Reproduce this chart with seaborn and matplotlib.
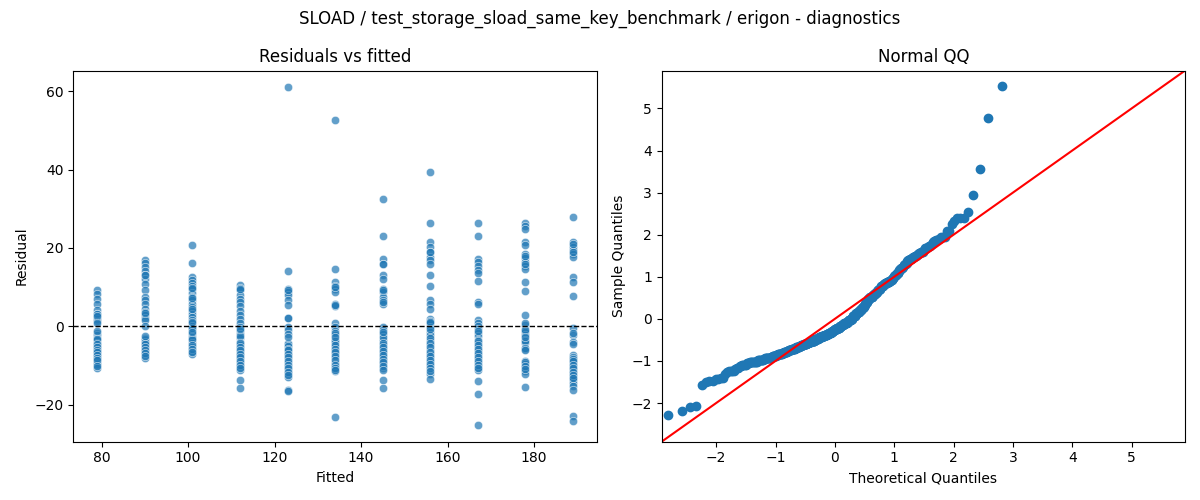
import statistics
import numpy as np
import pandas as pd
import matplotlib
matplotlib.use("Agg")
import matplotlib.pyplot as plt
import seaborn as sns

TITLE = "SLOAD / test_storage_sload_same_key_benchmark / erigon - diagnostics"

fitted_levels = [79, 90, 101, 112, 123, 134, 145, 156, 167, 178, 189]

res_79 = [9.3, 8.3, 7.0, 5.6, 4.1, 3.1, 2.4, 1.8, 1.4, -1.7, -2.3, -2.9, -3.6, -4.2, -5.0,
          -5.7, -6.3, -6.9, -7.6, -8.2, -9.1, -9.7, -10.6,
          3.0, 2.6, -3.2, -4.5, -5.3, -6.0, -6.6, -7.3, -8.0, -8.6, -10.2, -1.2, 0.8]
res_90 = [17.0, 16.2, 15.1, 14.0, 13.2, 12.1, 10.8, 9.3, 7.5, 6.8, 5.8, 4.5, 3.6, 2.8, 2.2,
          1.5, 0.0, -3.0, -3.6, -4.2, -4.8, -5.7, -6.5, -7.1, -8.1,
          13.0, 3.4, -3.3, -4.0, -4.6, -5.2, -6.1, -6.8, -7.5, -2.5]
res_101 = [20.8, 16.2, 12.7, 11.9, 11.0, 10.2, 9.6, 8.5, 7.5, 6.8, 5.6, 4.9, 3.9, 3.2, 2.4,
           1.7, 0.8, 0.0, -1.0, -1.9, -2.7, -3.6, -4.4, -5.3, -6.3, -7.1,
           9.8, 7.2, 4.5, -0.4, -3.2, -4.8, -5.8, -6.7, 1.2, -1.5]
res_112 = [10.6, 9.8, 9.2, 7.9, 7.0, 6.2, 5.1, 3.9, 2.8, 1.9, 0.7, -0.2, -1.2, -2.1, -3.1,
           -4.0, -4.8, -5.7, -6.5, -7.4, -8.5, -9.3, -10.2, -11.2, -13.7, -15.8,
           9.5, -2.6, -4.4, -5.2, -6.1, -7.0, -7.9, -8.9, -9.8, -10.7, -0.8]
res_123 = [61.0, 14.2, 9.6, 8.7, 7.9, 6.8, 5.3, 2.2, -0.2, -1.0, -1.9, -4.2, -5.3, -6.5,
           -7.4, -8.5, -9.3, -10.3, -11.2, -12.0, -12.9, -16.2, -16.5,
           9.2, 2.0, -4.5, -5.0, -5.8, -6.2, -7.0, -7.8, -8.9, -9.8, -10.8, -11.6, -12.5, -2.8]
res_134 = [52.7, 14.7, 11.3, 10.4, 9.6, 8.7, 5.8, 5.1, 0.7, -0.2, -1.3, -2.3, -3.4, -4.2,
           -5.3, -6.3, -7.1, -8.2, -9.3, -10.3, -11.4, -23.1,
           9.9, 5.5, -1.8, -3.8, -4.7, -5.8, -6.7, -7.6, -8.7, -9.8, -10.8, -11.2, -2.8]
res_145 = [32.5, 23.1, 17.2, 15.8, 13.2, 12.1, 9.6, 8.7, 7.5, 6.6, 5.8, -0.2, -1.0, -2.0,
           -3.6, -4.8, -5.9, -6.8, -7.8, -8.8, -9.7, -10.8, -13.7, -15.8,
           16.0, 9.2, 6.2, -2.8, -4.2, -5.3, -6.3, -7.3, -8.3, -9.2, -10.2, -11.2, -1.6]
res_156 = [39.4, 26.4, 21.4, 20.2, 18.9, 17.6, 16.8, 15.8, 13.2, 10.2, 6.6, 5.6, 4.5, 1.9,
           1.4, 0.7, -0.2, -1.4, -2.3, -3.7, -4.8, -6.1, -7.1, -8.2, -9.1, -10.2, -12.2, -13.6,
           19.0, 1.2, -3.0, -4.3, -5.4, -6.6, -7.6, -8.6, -9.6, -10.7, -11.5, -0.8]
res_167 = [26.5, 23.1, 17.2, 16.4, 15.5, 14.4, 13.6, 11.5, 6.2, 5.6, 1.5, 0.8, 0.0, -0.8,
           -1.7, -2.5, -3.4, -4.4, -5.3, -6.3, -7.4, -8.5, -9.5, -10.3, -11.2, -14.0, -17.4, -25.2,
           -3.9, -4.9, -5.8, -6.8, -7.9, -9.0, -10.0, -10.8, -1.2]
res_178 = [26.5, 25.7, 24.8, 21.4, 20.8, 18.5, 17.5, 16.4, 15.5, 14.5, 11.4, 8.9, 2.8, 0.3,
           -0.6, -1.4, -2.3, -3.4, -4.2, -5.9, -8.8, -9.7, -10.5, -11.4, -12.2, -15.6,
           18.0, 15.8, -1.0, -3.8, -5.5, -6.2, -9.2, -10.1, -11.0, 0.8, -2.8]
res_189 = [28.0, 21.4, 20.3, 19.5, 18.5, 17.6, 12.7, 11.4, 7.8, -0.4, -2.3, -4.0, -4.6, -7.4,
           -8.0, -8.6, -9.5, -10.3, -11.2, -12.0, -12.9, -13.7, -14.6, -15.4, -16.3, -22.9, -24.1,
           21.0, 19.0, -7.8, -8.3, -9.0, -9.9, -10.7, -11.6, -12.4, -13.2, -1.8]

residual_groups = [res_79, res_90, res_101, res_112, res_123, res_134,
                   res_145, res_156, res_167, res_178, res_189]

rows = []
for f, grp in zip(fitted_levels, residual_groups):
    for r in grp:
        rows.append({"Fitted": f, "Residual": r})
df = pd.DataFrame(rows)

# Normal QQ of standardized residuals
resid = df["Residual"].to_numpy()
std_resid = (resid - resid.mean()) / resid.std(ddof=1)
sample_q = np.sort(std_resid)
n = len(sample_q)
nd = statistics.NormalDist()
theo_q = np.array([nd.inv_cdf(i / (n + 1)) for i in range(1, n + 1)])
qq = pd.DataFrame({"Theoretical Quantiles": theo_q, "Sample Quantiles": sample_q})

fig, axes = plt.subplots(1, 2, figsize=(12, 5), dpi=100)

ax = axes[0]
sns.scatterplot(data=df, x="Fitted", y="Residual", ax=ax, alpha=0.7, color="#1f77b4")
ax.axhline(0, color="black", linestyle="--", linewidth=1)
ax.set_title("Residuals vs fitted")

ax = axes[1]
ax.plot(qq["Theoretical Quantiles"], qq["Sample Quantiles"], marker="o",
        linestyle="none", color="#1f77b4", markersize=6)
lims = [-2.92, 5.9]
ax.set_xlim(lims)
ax.set_ylim(lims)
ax.plot(lims, lims, color="red", linewidth=1.5)
ax.set_xlabel("Theoretical Quantiles")
ax.set_ylabel("Sample Quantiles")
ax.set_title("Normal QQ")

fig.suptitle(TITLE)
fig.tight_layout()
fig.savefig("out.png", dpi=100)
